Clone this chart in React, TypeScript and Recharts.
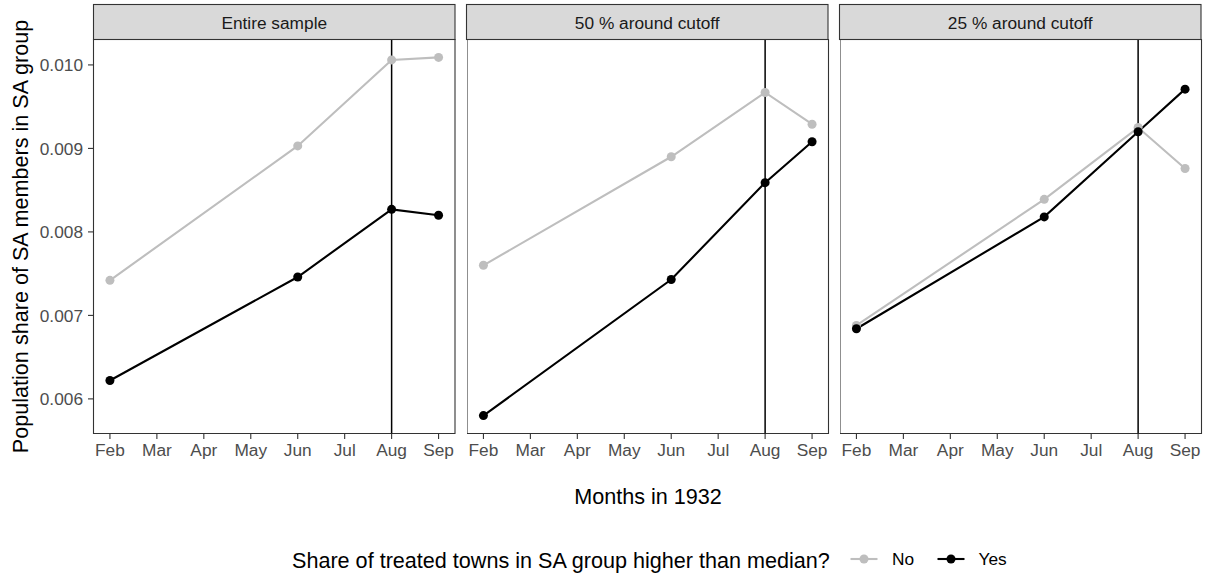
import React from 'react';
import { LineChart, Line, XAxis, YAxis, ReferenceLine, ReferenceArea } from 'recharts';

// months of 1932 that were observed (2 = Feb ... 9 = Sep)
const months = [2, 6, 8, 9];
const monthTicks = [2, 3, 4, 5, 6, 7, 8, 9];
const monthNames = ['Jan', 'Feb', 'Mar', 'Apr', 'May', 'Jun', 'Jul', 'Aug', 'Sep'];
const cutoffMonth = 8;

const panelTitles = ['Entire sample', '50 % around cutoff', '25 % around cutoff'];

// population share of SA members, "No" = share of treated towns not above median
const entireNo = [0.00742, 0.00903, 0.01006, 0.01009];
const entireYes = [0.00622, 0.00746, 0.00827, 0.0082];
const halfNo = [0.0076, 0.0089, 0.00967, 0.00929];
const halfYes = [0.0058, 0.00743, 0.00859, 0.00908];
const quarterNo = [0.00688, 0.00839, 0.00925, 0.00876];
const quarterYes = [0.00684, 0.00818, 0.0092, 0.00971];

const yTicks = [0.006, 0.007, 0.008, 0.009, 0.01];

const noSeries = [entireNo, halfNo, quarterNo];
const yesSeries = [entireYes, halfYes, quarterYes];

const NO_COLOR = '#BEBEBE';
const YES_COLOR = '#000000';
const FONT = '"Liberation Sans", Arial, Helvetica, sans-serif';

// layout (px)
const PLOT_TOP = 39.5;
const PLOT_BOTTOM = 433.5;
const CHART_H = 470;
const PANEL_W = 361.5;
const Y_AXIS_W = 93.5;
const panelLefts = [93.5, 466.5, 839.5];

// ggplot-like 5% expansion of both scales
const X_DOMAIN: [number, number] = [2 - 0.35, 9 + 0.35];
const allValues = [...noSeries.flat(), ...yesSeries.flat()];
const yMin = Math.min(...allValues);
const yMax = Math.max(...allValues);
const yPad = (yMax - yMin) * 0.05;
const Y_DOMAIN: [number, number] = [yMin - yPad, yMax + yPad];

const tickStyle = { fill: '#4D4D4D', fontSize: 17.3, fontFamily: FONT };

const YTitle = () => (
  <text
    x={20.5}
    y={(PLOT_TOP + PLOT_BOTTOM) / 2}
    transform={`rotate(-90, 20.5, ${(PLOT_TOP + PLOT_BOTTOM) / 2})`}
    textAnchor="middle"
    dy="0.355em"
    fill="#000"
    fontSize={21.6}
    fontFamily={FONT}
  >
    Population share of SA members in SA group
  </text>
);

const Facet = ({ index }: { index: number }) => {
  const first = index === 0;
  const axisW = first ? Y_AXIS_W : 0;
  const data = months.map((m, i) => ({
    month: m,
    No: noSeries[index][i],
    Yes: yesSeries[index][i],
  }));
  return (
    <div style={{ position: 'absolute', left: panelLefts[index] - axisW, top: 0 }}>
      <LineChart
        width={axisW + PANEL_W + 2}
        height={CHART_H}
        data={data}
        margin={{ top: PLOT_TOP, right: 2, bottom: 0, left: 0 }}
      >
        <XAxis
          type="number"
          dataKey="month"
          domain={X_DOMAIN}
          ticks={monthTicks}
          interval={0}
          allowDataOverflow
          height={CHART_H - PLOT_BOTTOM}
          tickFormatter={(m: number) => monthNames[m - 1]}
          axisLine={false}
          tickLine={{ stroke: '#333333', strokeWidth: 1.1 }}
          tickSize={5.5}
          tickMargin={5}
          tick={tickStyle}
        />
        <YAxis
          type="number"
          domain={Y_DOMAIN}
          ticks={yTicks}
          allowDataOverflow
          hide={!first}
          width={axisW}
          tickFormatter={(v: number) => v.toFixed(3)}
          axisLine={false}
          tickLine={{ stroke: '#333333', strokeWidth: 1.1 }}
          tickSize={5.5}
          tickMargin={5}
          tick={tickStyle}
          label={first ? () => <YTitle /> : undefined}
        />
        <ReferenceLine x={cutoffMonth} stroke="#000000" strokeWidth={1.5} />
        <Line
          dataKey="No"
          name="No"
          stroke={NO_COLOR}
          strokeWidth={2.1}
          dot={{ r: 4.5, fill: NO_COLOR, stroke: NO_COLOR, strokeWidth: 0 }}
          isAnimationActive={false}
        />
        <Line
          dataKey="Yes"
          name="Yes"
          stroke={YES_COLOR}
          strokeWidth={2.1}
          dot={{ r: 4.5, fill: YES_COLOR, stroke: YES_COLOR, strokeWidth: 0 }}
          isAnimationActive={false}
        />
        <ReferenceArea
          x1={X_DOMAIN[0]}
          x2={X_DOMAIN[1]}
          y1={Y_DOMAIN[0]}
          y2={Y_DOMAIN[1]}
          fill="none"
          fillOpacity={0}
          stroke="#333333"
          strokeWidth={1.1}
        />
      </LineChart>
    </div>
  );
};

const legendItems = [
  { label: 'No', color: NO_COLOR, cx: 864, textX: 892 },
  { label: 'Yes', color: YES_COLOR, cx: 951, textX: 978.5 },
];

const App = () => {
  const keyY = 559;
  return (
    <div style={{ position: 'absolute', left: 0, top: 0, width: 1207, height: 573, background: '#fff' }}>
      {panelTitles.map((_, i) => (
        <Facet key={i} index={i} />
      ))}
      <svg
        width={1207}
        height={573}
        style={{ position: 'absolute', left: 0, top: 0, pointerEvents: 'none' }}
      >
        {/* facet strips */}
        {panelTitles.map((t, i) => (
          <g key={t}>
            <rect
              x={panelLefts[i]}
              y={4.5}
              width={PANEL_W}
              height={35}
              fill="#D9D9D9"
              stroke="#333333"
              strokeWidth={1.1}
            />
            <text
              x={panelLefts[i] + PANEL_W / 2}
              y={29}
              textAnchor="middle"
              fill="#1A1A1A"
              fontSize={17.3}
              fontFamily={FONT}
            >
              {t}
            </text>
          </g>
        ))}
        <text x={648} y={503.5} textAnchor="middle" fill="#000" fontSize={21.6} fontFamily={FONT}>
          Months in 1932
        </text>
        {/* legend */}
        <text x={292} y={567.5} fill="#000" fontSize={21.6} fontFamily={FONT}>
          Share of treated towns in SA group higher than median?
        </text>
        {legendItems.map((it) => (
          <g key={it.label}>
            <line x1={it.cx - 13.5} x2={it.cx + 13.5} y1={keyY} y2={keyY} stroke={it.color} strokeWidth={2.1} />
            <circle cx={it.cx} cy={keyY} r={4.5} fill={it.color} />
            <text x={it.textX} y={keyY + 6.1} fill="#000" fontSize={17.3} fontFamily={FONT}>
              {it.label}
            </text>
          </g>
        ))}
      </svg>
    </div>
  );
};

export default App;
